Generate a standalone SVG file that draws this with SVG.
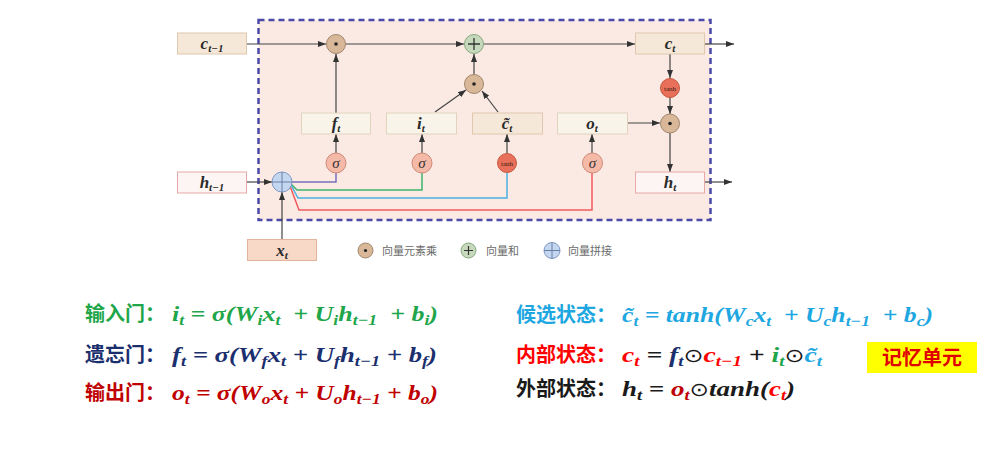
<svg xmlns="http://www.w3.org/2000/svg" width="1001" height="450" viewBox="0 0 1001 450">
<defs>
<marker id="ar" markerUnits="userSpaceOnUse" markerWidth="8" markerHeight="6" refX="8" refY="3" orient="auto"><path d="M0,0 L8,3 L0,6 z" fill="#333"/></marker>
<style>
.ln{stroke:#444;stroke-width:1.2;fill:none}
.bx{font-family:"Liberation Serif",serif;font-weight:bold;font-style:italic;font-size:17px;fill:#2a2a2a;text-anchor:middle}
.sb{font-size:11px}
.box1{fill:#f6e8d8;stroke:#e0c8ae;stroke-width:1}
.box2{fill:#f8f4ea;stroke:#e2d3bd;stroke-width:1}
.box3{fill:#fdf5f3;stroke:#e6a9a6;stroke-width:1}
.box4{fill:#f8d8c6;stroke:#e4b49c;stroke-width:1}
.dot{fill:#d8b898;stroke:#a0856a;stroke-width:1}
.sum{fill:#c6d9bd;stroke:#86a67e;stroke-width:1}
.cat{fill:#c4d7f0;stroke:#7f98c2;stroke-width:1}
.sig{fill:#f5b9a8;stroke:#cf8a78;stroke-width:1}
.th{fill:#e8705a;stroke:#c5583f;stroke-width:1}
.lg{font-family:"Noto Sans CJK SC","Noto Sans",sans-serif;font-size:11px;fill:#6a6a6a}
.cn{font-family:"Noto Sans CJK SC",sans-serif;font-weight:bold;font-size:20px}
.fm{font-family:"Liberation Serif",serif;font-weight:bold;font-style:italic;font-size:22px}
.fs{font-size:15px}
.od{font-family:"DejaVu Sans",sans-serif;font-style:normal;font-weight:normal;font-size:19px}
</style>
</defs>
<rect x="0" y="0" width="1001" height="450" fill="#ffffff"/>
<rect id="cell" x="258.5" y="20" width="452" height="200" fill="#fbeae4" stroke="#4b4aa6" stroke-width="2.5" stroke-dasharray="6 4"/>

<g id="connectors">
<line class="ln" x1="247" y1="44" x2="326" y2="44" marker-end="url(#ar)"/>
<line class="ln" x1="346" y1="44" x2="464" y2="44" marker-end="url(#ar)"/>
<line class="ln" x1="484" y1="44" x2="635" y2="44" marker-end="url(#ar)"/>
<line class="ln" x1="705" y1="44" x2="734" y2="44" marker-end="url(#ar)"/>
<line class="ln" x1="336" y1="113" x2="336" y2="54" marker-end="url(#ar)"/>
<line class="ln" x1="474" y1="74" x2="474" y2="54" marker-end="url(#ar)"/>
<line class="ln" x1="435" y1="112" x2="466" y2="90" marker-end="url(#ar)"/>
<line class="ln" x1="498" y1="112" x2="482" y2="91" marker-end="url(#ar)"/>
<line class="ln" x1="670" y1="54" x2="670" y2="78" marker-end="url(#ar)"/>
<line class="ln" x1="670" y1="97" x2="670" y2="114" marker-end="url(#ar)"/>
<line class="ln" x1="627" y1="123" x2="660" y2="123" marker-end="url(#ar)"/>
<line class="ln" x1="670" y1="133" x2="670" y2="172" marker-end="url(#ar)"/>
<line class="ln" x1="704" y1="182" x2="732" y2="182" marker-end="url(#ar)"/>
<line class="ln" x1="247" y1="182" x2="272" y2="182" marker-end="url(#ar)"/>
<line class="ln" x1="282" y1="240" x2="282" y2="192" marker-end="url(#ar)"/>
<line class="ln" x1="336" y1="153" x2="336" y2="134" marker-end="url(#ar)"/>
<line class="ln" x1="422" y1="153" x2="422" y2="134" marker-end="url(#ar)"/>
<line class="ln" x1="507" y1="153" x2="507" y2="134" marker-end="url(#ar)"/>
<line class="ln" x1="592" y1="153" x2="592" y2="134" marker-end="url(#ar)"/>
<polyline fill="none" stroke="#7a6fba" stroke-width="1.5" points="292,182 336,182 336,173"/>
<polyline fill="none" stroke="#3cb469" stroke-width="1.5" points="291,184 297,190 422,190 422,173"/>
<polyline fill="none" stroke="#4cb0e2" stroke-width="1.5" points="291,185 298,198 507,198 507,173"/>
<polyline fill="none" stroke="#f25a5c" stroke-width="1.5" points="290,186 299,210 592,210 592,173"/>
</g>

<g id="c_prev"><rect class="box1" x="177.5" y="33" width="69" height="21"/><text class="bx" x="212" y="49">c<tspan class="sb" dy="3">t−1</tspan></text></g>
<g id="c_t"><rect class="box1" x="635.5" y="33" width="69" height="21"/><text class="bx" x="670" y="49">c<tspan class="sb" dy="3">t</tspan></text></g>
<g id="f_t"><rect class="box2" x="301.5" y="113" width="69" height="21"/><text class="bx" x="336" y="129">f<tspan class="sb" dy="3">t</tspan></text></g>
<g id="i_t"><rect class="box2" x="386.5" y="113" width="70" height="21"/><text class="bx" x="421" y="129">i<tspan class="sb" dy="3">t</tspan></text></g>
<g id="ctilde"><rect class="box1" x="472.5" y="113" width="70" height="21"/><text class="bx" x="507" y="129">c̃<tspan class="sb" dy="3">t</tspan></text></g>
<g id="o_t"><rect class="box2" x="557.5" y="113" width="70" height="21"/><text class="bx" x="592" y="129">o<tspan class="sb" dy="3">t</tspan></text></g>
<g id="h_prev"><rect class="box3" x="177.5" y="172" width="69" height="21"/><text class="bx" x="212" y="188">h<tspan class="sb" dy="3">t−1</tspan></text></g>
<g id="h_t"><rect class="box3" x="635.5" y="172" width="69" height="21"/><text class="bx" x="670" y="188">h<tspan class="sb" dy="3">t</tspan></text></g>
<g id="x_t"><rect class="box4" x="247.5" y="239.5" width="69" height="21"/><text class="bx" x="282" y="256">x<tspan class="sb" dy="3">t</tspan></text></g>

<g id="mul_c"><circle class="dot" cx="336" cy="44" r="9.5"/><circle cx="336" cy="44" r="1.8" fill="#222"/></g>
<g id="add_c"><circle class="sum" cx="474" cy="44" r="9.5"/><path d="M468,44 H480 M474,38 V50" stroke="#333" stroke-width="1.3"/></g>
<g id="mul_i"><circle class="dot" cx="474" cy="84" r="9.5"/><circle cx="474" cy="84" r="1.8" fill="#222"/></g>
<g id="tanh_c"><circle class="th" cx="670" cy="88" r="9.5"/><text x="670" y="90.5" text-anchor="middle" font-family="Liberation Serif,serif" font-size="7" fill="#3a1a10">tanh</text></g>
<g id="mul_o"><circle class="dot" cx="670" cy="123.5" r="9.5"/><circle cx="670" cy="123.5" r="1.8" fill="#222"/></g>
<g id="sig_f"><circle class="sig" cx="336" cy="163" r="10"/><text x="336" y="168" text-anchor="middle" font-family="Liberation Serif,serif" font-style="italic" font-size="15" fill="#333">σ</text></g>
<g id="sig_i"><circle class="sig" cx="422" cy="163" r="10"/><text x="422" y="168" text-anchor="middle" font-family="Liberation Serif,serif" font-style="italic" font-size="15" fill="#333">σ</text></g>
<g id="tanh_g"><circle class="th" cx="507" cy="163" r="9.5"/><text x="507" y="165.5" text-anchor="middle" font-family="Liberation Serif,serif" font-size="7" fill="#3a1a10">tanh</text></g>
<g id="sig_o"><circle class="sig" cx="592.5" cy="163" r="10"/><text x="592.5" y="168" text-anchor="middle" font-family="Liberation Serif,serif" font-style="italic" font-size="15" fill="#333">σ</text></g>
<g id="concat"><circle class="cat" cx="282" cy="182" r="10"/><path d="M272,182 H292 M282,172 V192" stroke="#6a7fa8" stroke-width="1"/></g>

<g id="legend">
<circle class="dot" cx="365.5" cy="250.5" r="7.5"/><circle cx="365.5" cy="250.5" r="1.6" fill="#222"/>
<text class="lg" x="382" y="254.5">向量元素乘</text>
<circle class="sum" cx="468.5" cy="250.5" r="7.5"/><path d="M464,250.5 H473 M468.5,246 V255" stroke="#333" stroke-width="1.2"/>
<text class="lg" x="486" y="254.5">向量和</text>
<circle class="cat" cx="552" cy="250.5" r="8"/><path d="M544,250.5 H560 M552,242.5 V258.5" stroke="#6a7fa8" stroke-width="1"/>
<text class="lg" x="568" y="254.5">向量拼接</text>
</g>

<g id="eq_left">
<text class="cn" x="85" y="321" fill="#1fa64a">输入门：</text>
<text class="fm" x="172" y="321" fill="#1fa64a" xml:space="preserve" textLength="266" lengthAdjust="spacingAndGlyphs">i<tspan class="fs" dy="4">t</tspan><tspan dy="-4"> = σ(W</tspan><tspan class="fs" dy="4">i</tspan><tspan dy="-4">x</tspan><tspan class="fs" dy="4">t</tspan><tspan dy="-4">  + U</tspan><tspan class="fs" dy="4">i</tspan><tspan dy="-4">h</tspan><tspan class="fs" dy="4">t−1</tspan><tspan dy="-4">  + b</tspan><tspan class="fs" dy="4">i</tspan><tspan dy="-4">)</tspan></text>
<text class="cn" x="85" y="362" fill="#1b2f6e">遗忘门：</text>
<text class="fm" x="172" y="362" fill="#1b2f6e" xml:space="preserve" textLength="265" lengthAdjust="spacingAndGlyphs">f<tspan class="fs" dy="4">t</tspan><tspan dy="-4"> = σ(W</tspan><tspan class="fs" dy="4">f</tspan><tspan dy="-4">x</tspan><tspan class="fs" dy="4">t</tspan><tspan dy="-4"> + U</tspan><tspan class="fs" dy="4">f</tspan><tspan dy="-4">h</tspan><tspan class="fs" dy="4">t−1</tspan><tspan dy="-4"> + b</tspan><tspan class="fs" dy="4">f</tspan><tspan dy="-4">)</tspan></text>
<text class="cn" x="85" y="400" fill="#c00000">输出门：</text>
<text class="fm" x="172" y="400" fill="#c00000" xml:space="preserve" textLength="266" lengthAdjust="spacingAndGlyphs">o<tspan class="fs" dy="4">t</tspan><tspan dy="-4"> = σ(W</tspan><tspan class="fs" dy="4">o</tspan><tspan dy="-4">x</tspan><tspan class="fs" dy="4">t</tspan><tspan dy="-4"> + U</tspan><tspan class="fs" dy="4">o</tspan><tspan dy="-4">h</tspan><tspan class="fs" dy="4">t−1</tspan><tspan dy="-4"> + b</tspan><tspan class="fs" dy="4">o</tspan><tspan dy="-4">)</tspan></text>
</g>

<g id="eq_right">
<text class="cn" x="516" y="322" fill="#1ea7e1">候选状态：</text>
<text class="fm" x="622" y="322" fill="#1ea7e1" xml:space="preserve" textLength="311" lengthAdjust="spacingAndGlyphs">c̃<tspan class="fs" dy="4">t</tspan><tspan dy="-4"> = tanh(W</tspan><tspan class="fs" dy="4">c</tspan><tspan dy="-4">x</tspan><tspan class="fs" dy="4">t</tspan><tspan dy="-4">  + U</tspan><tspan class="fs" dy="4">c</tspan><tspan dy="-4">h</tspan><tspan class="fs" dy="4">t−1</tspan><tspan dy="-4">  + b</tspan><tspan class="fs" dy="4">c</tspan><tspan dy="-4">)</tspan></text>
<text class="cn" x="516" y="362" fill="#ff0000">内部状态：</text>
<text class="fm" x="622" y="362" fill="#1a1a1a" textLength="200" lengthAdjust="spacingAndGlyphs"><tspan fill="#ff0000">c</tspan><tspan class="fs" dy="4" fill="#ff0000">t</tspan><tspan dy="-4"> = </tspan><tspan fill="#1b2f6e">f</tspan><tspan class="fs" dy="4" fill="#1b2f6e">t</tspan><tspan class="od" dy="-4">⊙</tspan><tspan fill="#ff0000">c</tspan><tspan class="fs" dy="4" fill="#ff0000">t−1</tspan><tspan dy="-4"> + </tspan><tspan fill="#1fa64a">i</tspan><tspan class="fs" dy="4" fill="#1fa64a">t</tspan><tspan class="od" dy="-4">⊙</tspan><tspan fill="#1ea7e1">c̃</tspan><tspan class="fs" dy="4" fill="#1ea7e1">t</tspan></text>
<text class="cn" x="516" y="396" fill="#1a1a1a">外部状态：</text>
<text class="fm" x="622" y="396" fill="#1a1a1a" textLength="173" lengthAdjust="spacingAndGlyphs">h<tspan class="fs" dy="4">t</tspan><tspan dy="-4"> = </tspan><tspan fill="#c00000">o</tspan><tspan class="fs" dy="4" fill="#c00000">t</tspan><tspan class="od" dy="-4">⊙</tspan><tspan>tanh(</tspan><tspan fill="#ff0000">c</tspan><tspan class="fs" dy="4" fill="#ff0000">t</tspan><tspan dy="-4">)</tspan></text>
</g>

<g id="memory_label">
<rect x="867" y="342" width="110" height="31" fill="#ffff00"/>
<text x="922" y="365" text-anchor="middle" font-family="Noto Sans CJK SC,sans-serif" font-weight="bold" font-size="20" fill="#e00000">记忆单元</text>
</g>
</svg>
